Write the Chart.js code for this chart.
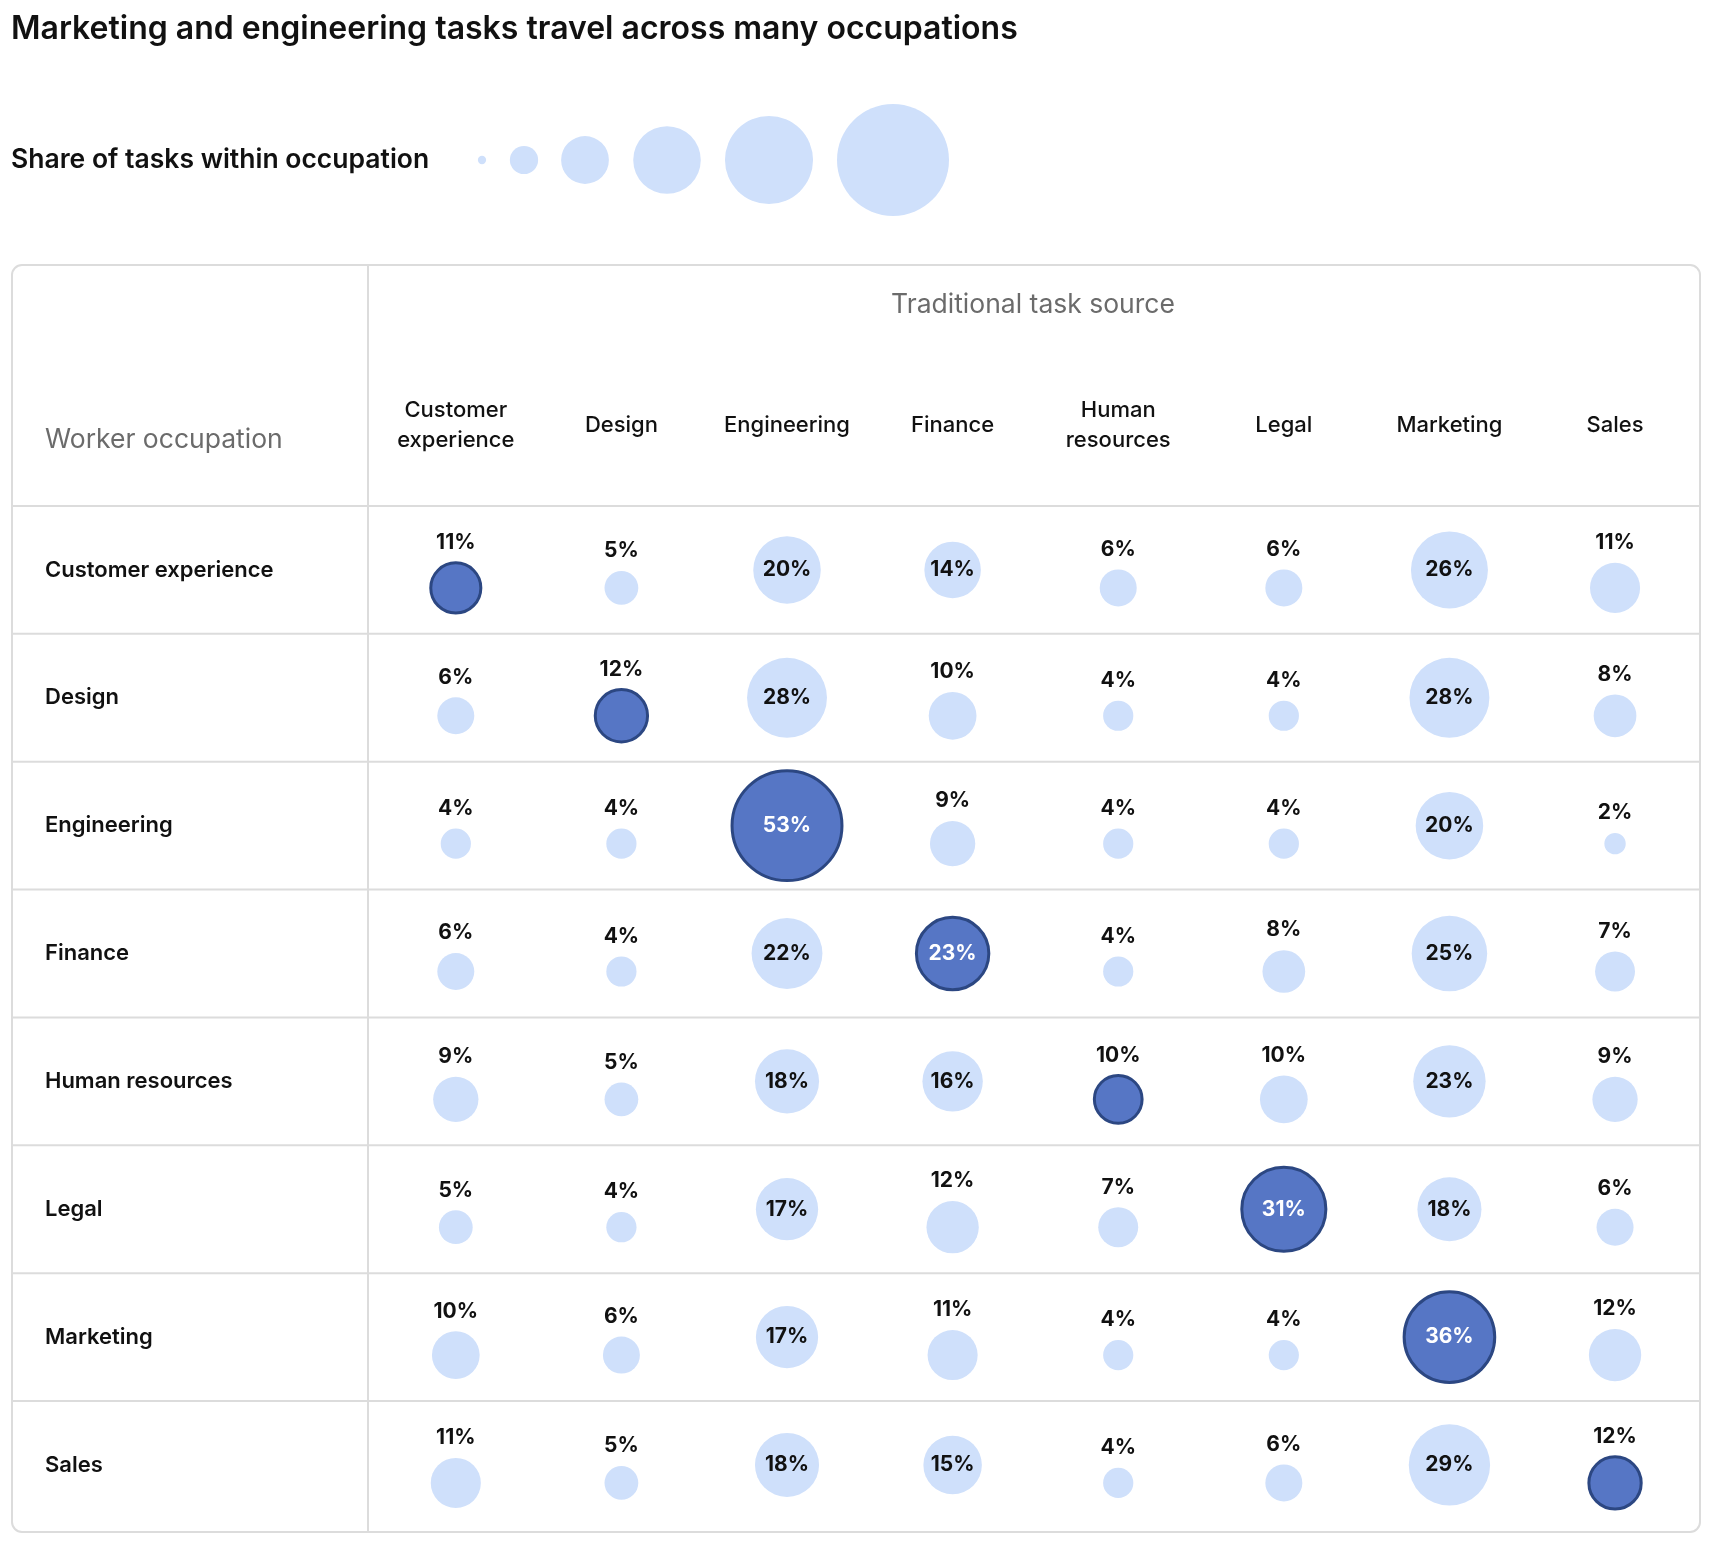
<!DOCTYPE html>
<html>
<head>
<meta charset="utf-8">
<script src="https://cdn.jsdelivr.net/npm/chart.js@4"></script>
<style>
  html, body { margin: 0; padding: 0; background: #fff; }
  #wrap { width: 1726px; height: 1560px; }
</style>
</head>
<body>
<div id="wrap"><canvas id="chart" width="1726" height="1560"></canvas></div>
<script>
const sources = ["Customer experience", "Design", "Engineering", "Finance", "Human resources", "Legal", "Marketing", "Sales"];
const sourceHeaders = [["Customer", "experience"], ["Design"], ["Engineering"], ["Finance"], ["Human", "resources"], ["Legal"], ["Marketing"], ["Sales"]];
const occupations = ["Customer experience", "Design", "Engineering", "Finance", "Human resources", "Legal", "Marketing", "Sales"];

// share of tasks (%) per worker occupation, one value per task source
const customerExperienceRow = [11, 5, 20, 14, 6, 6, 26, 11];
const designRow = [6, 12, 28, 10, 4, 4, 28, 8];
const engineeringRow = [4, 4, 53, 9, 4, 4, 20, 2];
const financeRow = [6, 4, 22, 23, 4, 8, 25, 7];
const humanResourcesRow = [9, 5, 18, 16, 10, 10, 23, 9];
const legalRow = [5, 4, 17, 12, 7, 31, 18, 6];
const marketingRow = [10, 6, 17, 11, 4, 4, 36, 12];
const salesRow = [11, 5, 18, 15, 4, 6, 29, 12];
const rows = [customerExperienceRow, designRow, engineeringRow, financeRow, humanResourcesRow, legalRow, marketingRow, salesRow];

const legendValues = [0.3, 3.5, 10, 20, 34, 55];

const LIGHT = "#cfe0fb";
const DARK = "#5676c5";
const DARK_BORDER = "#2c4782";
const INSIDE_MIN = 14;      // labels go inside bubbles this big
const SHIFT = 18 / 128;     // small bubbles sit a bit below the row centre
const FONT = "Inter, 'Noto Sans', sans-serif";

function radius(v) { return 7.55 * Math.sqrt(v); }

const points = [];
rows.forEach(function (row, ri) {
    row.forEach(function (v, ci) {
        points.push({ x: ci, y: v >= INSIDE_MIN ? ri : ri + SHIFT, r: radius(v), v: v, diag: ri === ci });
    });
});

const decor = {
    id: "decor",
    beforeDatasetsDraw(chart) {
        const ctx = chart.ctx;
        ctx.save();
        // title and legend
        ctx.fillStyle = "#111";
        ctx.textBaseline = "middle";
        ctx.font = "600 32px " + FONT;
        ctx.fillText("Marketing and engineering tasks travel across many occupations", 11, 29);
        ctx.font = "600 26.5px " + FONT;
        ctx.fillText("Share of tasks within occupation", 11, 160);
        const lx = [482, 524, 585, 667, 769, 893];
        legendValues.forEach(function (v, i) {
            ctx.beginPath();
            ctx.arc(lx[i], 160, radius(v), 0, Math.PI * 2);
            ctx.fillStyle = LIGHT;
            ctx.fill();
        });
        // box
        ctx.strokeStyle = "#dcdcdc";
        ctx.lineWidth = 2;
        ctx.beginPath();
        ctx.roundRect(12, 265, 1688, 1267, 10);
        ctx.stroke();
        ctx.beginPath();
        ctx.moveTo(368, 265); ctx.lineTo(368, 1532);
        ctx.stroke();
        const ys = chart.scales.y;
        for (let i = 0; i < occupations.length; i++) {
            const yl = ys.getPixelForValue(i - 0.5);
            ctx.beginPath();
            ctx.moveTo(12, yl); ctx.lineTo(1700, yl);
            ctx.stroke();
        }
        // headers
        ctx.fillStyle = "#6b6b6b";
        ctx.font = "400 26.5px " + FONT;
        ctx.textAlign = "center";
        ctx.fillText("Traditional task source", 1033, 305);
        ctx.textAlign = "left";
        ctx.fillText("Worker occupation", 45, 440);
        const xs = chart.scales.x;
        ctx.fillStyle = "#111";
        ctx.font = "500 22px " + FONT;
        ctx.textAlign = "center";
        sourceHeaders.forEach(function (lines, i) {
            const x = xs.getPixelForValue(i);
            if (lines.length === 1) ctx.fillText(lines[0], x, 425);
            else { ctx.fillText(lines[0], x, 410); ctx.fillText(lines[1], x, 440); }
        });
        ctx.textAlign = "left";
        ctx.font = "600 22px " + FONT;
        occupations.forEach(function (o, i) {
            ctx.fillText(o, 45, ys.getPixelForValue(i));
        });
        ctx.restore();
    },
    afterDatasetsDraw(chart) {
        const ctx = chart.ctx;
        const meta = chart.getDatasetMeta(0);
        ctx.save();
        ctx.textAlign = "center";
        ctx.textBaseline = "middle";
        ctx.font = "700 21px " + FONT;
        meta.data.forEach(function (el, i) {
            const p = points[i];
            if (p.v >= INSIDE_MIN) {
                ctx.fillStyle = p.diag ? "#fff" : "#111";
                ctx.fillText(p.v + "%", el.x, el.y);
            } else {
                ctx.fillStyle = "#111";
                ctx.fillText(p.v + "%", el.x, el.y - p.r - 20);
            }
        });
        ctx.restore();
    }
};

new Chart(document.getElementById("chart").getContext("2d"), {
    type: "bubble",
    data: {
        datasets: [{
            data: points,
            backgroundColor: points.map(p => p.diag ? DARK : LIGHT),
            borderColor: points.map(p => p.diag ? DARK_BORDER : LIGHT),
            borderWidth: points.map(p => p.diag ? 3 : 0),
            hoverRadius: 0,
            clip: false
        }]
    },
    options: {
        responsive: false,
        animation: false,
        layout: { padding: { left: 373, right: 26, top: 506, bottom: 28 } },
        scales: {
            x: { type: "linear", min: -0.5, max: 7.32, display: false },
            y: { type: "linear", min: -0.5, max: 7.29, reverse: true, display: false }
        },
        plugins: { legend: { display: false }, tooltip: { enabled: false } }
    },
    plugins: [decor]
});
</script>
</body>
</html>
